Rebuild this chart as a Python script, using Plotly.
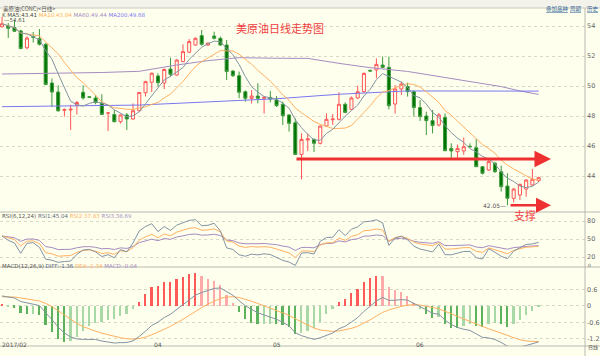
import numpy as np
import pandas as pd
import plotly.graph_objects as go
from plotly.subplots import make_subplots

# ---------------- data ----------------
open_ = [53.95, 54.00, 53.90, 53.67, 52.55, 53.30, 53.15, 52.78, 50.20, 49.60,
         48.38, 48.40, 48.72, 49.58, 49.28, 49.20, 48.85, 48.20, 48.10, 47.62,
         48.07, 47.80, 48.35, 49.55, 50.25, 50.67, 50.20, 51.13, 50.73, 51.62,
         52.25, 52.73, 53.36, 52.73, 53.33, 53.18, 52.73, 51.00, 50.69, 49.62,
         49.18, 49.33, 49.18, 49.24, 49.07, 48.78, 48.07, 47.55, 45.44, 46.40,
         46.44, 46.18, 47.33, 47.75, 47.78, 48.78, 48.44, 49.20, 49.62, 51.04,
         51.07, 51.40, 51.24, 48.80, 49.80, 49.96, 49.62, 48.56, 48.00, 47.69,
         47.40, 47.90, 45.84, 45.62, 45.67, 45.98, 45.88, 44.62, 44.40, 44.85,
         44.29, 43.33, 42.51, 42.73, 43.13, 43.40, 43.69]
high = [54.61, 54.20, 54.40, 53.75, 53.30, 53.60, 53.80, 52.85, 50.50, 50.05,
        48.50, 48.75, 49.00, 50.05, 49.30, 49.40, 49.45, 48.24, 48.40, 48.10,
        48.20, 48.84, 49.60, 50.35, 50.90, 50.84, 51.18, 51.89, 51.80, 52.78,
        53.13, 53.25, 53.73, 52.90, 53.62, 53.29, 53.07, 51.05, 50.96, 49.70,
        49.73, 50.18, 49.30, 49.67, 49.33, 48.96, 48.10, 47.84, 46.84, 46.84,
        46.50, 47.35, 48.18, 48.13, 49.58, 48.91, 49.30, 50.02, 50.90, 51.10,
        51.84, 51.96, 51.96, 50.07, 50.29, 50.22, 49.70, 49.07, 48.29, 48.40,
        48.20, 48.18, 46.18, 46.10, 46.56, 46.18, 46.47, 44.65, 45.07, 44.95,
        44.69, 44.18, 43.20, 43.50, 43.80, 44.47, 43.95]
low = [53.90, 53.20, 53.60, 52.45, 52.45, 52.90, 52.70, 50.05, 48.60, 48.28,
       47.96, 47.07, 48.10, 49.10, 49.20, 48.78, 48.07, 47.00, 47.58, 47.50,
       47.07, 47.75, 48.30, 49.30, 49.60, 49.96, 49.80, 50.62, 50.69, 51.60,
       52.20, 52.70, 52.69, 52.68, 53.10, 52.70, 50.40, 50.60, 49.18, 48.96,
       48.84, 48.84, 48.16, 48.90, 48.60, 47.40, 46.96, 45.40, 43.78, 45.67,
       45.60, 46.10, 47.30, 47.40, 47.70, 48.20, 48.40, 49.15, 49.55, 50.95,
       50.51, 51.20, 48.44, 48.16, 49.40, 49.29, 47.96, 47.67, 46.73, 46.84,
       47.30, 45.65, 45.18, 45.20, 45.40, 45.90, 44.60, 44.10, 44.35, 44.20,
       42.96, 42.05, 42.24, 42.40, 42.62, 43.35, 43.60]
close = [54.15, 53.85, 53.65, 52.50, 53.20, 53.25, 52.78, 50.10, 49.60, 48.35,
         48.42, 48.45, 48.90, 49.20, 49.25, 48.90, 48.10, 48.20, 47.62, 48.07,
         47.80, 48.35, 49.57, 50.29, 50.85, 50.22, 51.10, 50.78, 51.73, 52.29,
         52.96, 53.18, 52.78, 52.86, 53.18, 52.73, 50.96, 50.69, 49.58, 49.18,
         49.33, 49.18, 49.24, 49.13, 48.69, 48.02, 47.51, 45.44, 46.44, 46.47,
         46.18, 47.33, 47.78, 47.80, 48.78, 48.24, 49.20, 49.62, 50.84, 51.00,
         51.44, 51.24, 48.69, 49.80, 50.13, 49.62, 48.56, 47.96, 47.69, 47.36,
         48.07, 45.69, 45.67, 45.84, 45.95, 45.95, 44.62, 44.18, 44.96, 44.29,
         43.29, 42.51, 43.13, 43.44, 43.73, 43.78, 43.89]

ma60_idx = [0, 9, 16, 22, 28, 33, 38, 44, 49, 54, 59, 65, 70, 75, 80, 83, 86]
ma60_val = [50.80, 50.85, 50.90, 50.98, 51.40, 51.69, 51.89, 51.85, 51.84, 51.51,
            51.22, 50.97, 50.62, 50.29, 49.96, 49.67, 49.44]
ma200_idx = [0, 22, 44, 54, 65, 75, 86]
ma200_val = [48.62, 48.73, 49.15, 49.45, 49.67, 49.68, 49.66]

month_idx = [0, 25, 44, 67]
month_lbl = ["2017/02", "04", "05", "06"]

price_ticks = [54, 52, 50, 48, 46, 44]
rsi_ticks = [80, 50, 20]
macd_ticks = [0.6, 0, -0.6, -1.2]

support_price = 45.13
low_price = 42.05
high_price = 54.61

# ---------------- indicators ----------------
n = len(close)
x = list(range(n))
c = pd.Series(close)
ma5 = c.rolling(5, min_periods=1).mean()
ma10 = c.rolling(10, min_periods=1).mean()


def rsi(vals, period, g0, l0):
    g, l = g0, l0
    out = []
    prev = None
    for v in vals:
        if prev is not None:
            d = v - prev
            g = (max(d, 0) + (period - 1) * g) / period
            l = (abs(d) + (period - 1) * l) / period
        out.append(100 * g / l if l else 50)
        prev = v
    return out


rsi6 = rsi(close, 6, 0.22, 0.40)
rsi12 = rsi(close, 12, 0.22, 0.40)
rsi24 = rsi(close, 24, 0.22, 0.40)

e12, e26, dea = 53.85, 53.48, 0.33
diff_l, dea_l, hist = [], [], []
for v in close:
    e12 = (2 * v + 11 * e12) / 13
    e26 = (2 * v + 25 * e26) / 27
    d = e12 - e26
    dea = (2 * d + 8 * dea) / 10
    diff_l.append(d)
    dea_l.append(dea)
    hist.append(2 * (d - dea))

hist_col = []
for i, h in enumerate(hist):
    grow = i == 0 or abs(h) >= abs(hist[i - 1])
    if h >= 0:
        hist_col.append("#FF5A5A" if grow else "#FFAAAA")
    else:
        hist_col.append("#5DB35D" if grow else "#A8D8A8")

# ---------------- figure ----------------
BG = "#FFFFEE"
GRID = "#D9D9C8"
C_MA5 = "#8393A3"
C_MA10 = "#FFB060"
C_MA60 = "#A58CC0"
C_MA200 = "#7878F0"

fig = make_subplots(rows=3, cols=1, shared_xaxes=True, vertical_spacing=0,
                    row_heights=[204, 55, 79])

fig.add_trace(go.Candlestick(
    x=x, open=open_, high=high, low=low, close=close,
    increasing=dict(line=dict(color="#FF5555", width=1), fillcolor=BG),
    decreasing=dict(line=dict(color="#3C9A3C", width=1), fillcolor="#007400"),
    whiskerwidth=0, showlegend=False, hoverinfo="skip"), row=1, col=1)

fig.add_trace(go.Scatter(x=ma60_idx, y=ma60_val, mode="lines",
                         line=dict(color=C_MA60, width=1), showlegend=False), row=1, col=1)
fig.add_trace(go.Scatter(x=ma200_idx, y=ma200_val, mode="lines",
                         line=dict(color=C_MA200, width=1), showlegend=False), row=1, col=1)
fig.add_trace(go.Scatter(x=x, y=ma10, mode="lines",
                         line=dict(color=C_MA10, width=1), showlegend=False), row=1, col=1)
fig.add_trace(go.Scatter(x=x, y=ma5, mode="lines",
                         line=dict(color=C_MA5, width=1), showlegend=False), row=1, col=1)

fig.add_trace(go.Scatter(x=x, y=rsi24, mode="lines",
                         line=dict(color=C_MA60, width=1), showlegend=False), row=2, col=1)
fig.add_trace(go.Scatter(x=x, y=rsi12, mode="lines",
                         line=dict(color=C_MA10, width=1), showlegend=False), row=2, col=1)
fig.add_trace(go.Scatter(x=x, y=rsi6, mode="lines",
                         line=dict(color=C_MA5, width=1), showlegend=False), row=2, col=1)

fig.add_trace(go.Bar(x=x, y=hist, marker=dict(color=hist_col, line=dict(width=0)),
                     width=0.28, showlegend=False), row=3, col=1)
fig.add_trace(go.Scatter(x=x, y=dea_l, mode="lines",
                         line=dict(color=C_MA10, width=1), showlegend=False), row=3, col=1)
fig.add_trace(go.Scatter(x=x, y=diff_l, mode="lines",
                         line=dict(color=C_MA5, width=1), showlegend=False), row=3, col=1)

XR = [-0.32, 93.43]
tickfont = dict(size=6.5, color="#666666", family="DejaVu Sans")
for r in (1, 2, 3):
    fig.update_xaxes(range=XR, showgrid=False, zeroline=False, showticklabels=False,
                     rangeslider_visible=False, row=r, col=1)
fig.update_yaxes(range=[41.6, 55.2], tickvals=price_ticks, row=1, col=1)
fig.update_yaxes(range=[3.33, 95], tickvals=rsi_ticks, row=2, col=1)
fig.update_yaxes(range=[-1.47, 1.43], tickvals=macd_ticks,
                 ticktext=["0.6", "0", "-0.6", "-1.2"], row=3, col=1)
fig.update_yaxes(side="right", showgrid=True, gridcolor=GRID, griddash="dot",
                 gridwidth=1, zeroline=False, tickfont=tickfont, ticks="",
                 ticklabelstandoff=1, automargin=False)
fig.update_xaxes(automargin=False)

fig.update_layout(
    width=600, height=356,
    margin=dict(l=0, r=15, t=8, b=10, autoexpand=False),
    paper_bgcolor=BG, plot_bgcolor=BG,
    bargap=0, showlegend=False,
    font=dict(family="Noto Sans CJK SC, DejaVu Sans", size=7),
)


def px(xp):
    return xp / 585.0


def py(yp):
    return 1 - (yp - 8) / 338.0


def xi(xp):
    return (xp - 2) / 6.24


shapes = [
    dict(type="rect", xref="paper", yref="paper", x0=px(0), x1=px(600), y0=py(8), y1=py(0),
         fillcolor="#F3F3EC", line=dict(width=0), layer="below"),
    dict(type="line", xref="paper", yref="paper", x0=0, x1=px(600), y0=py(8), y1=py(8),
         line=dict(color="#C8C8C0", width=1)),
    dict(type="line", xref="paper", yref="paper", x0=0, x1=px(600), y0=py(212), y1=py(212),
         line=dict(color="#B8B8B0", width=1)),
    dict(type="line", xref="paper", yref="paper", x0=0, x1=px(600), y0=py(267), y1=py(267),
         line=dict(color="#B8B8B0", width=1)),
    dict(type="line", xref="paper", yref="paper", x0=0, x1=px(600), y0=py(346), y1=py(346),
         line=dict(color="#B8B8B0", width=1)),
    dict(type="line", xref="paper", yref="paper", x0=1, x1=1, y0=py(8), y1=py(356),
         line=dict(color="#B8B8B0", width=1)),
]
fig.update_layout(shapes=shapes)

ann = []
# arrows
ann.append(dict(x=xi(551), y=support_price, ax=xi(295), ay=support_price,
                xref="x", yref="y", axref="x", ayref="y", text="", showarrow=True,
                arrowhead=2, arrowsize=1.1, arrowwidth=3, arrowcolor="#EE3030"))
ann.append(dict(x=xi(551), y=low_price, ax=xi(509), ay=low_price,
                xref="x", yref="y", axref="x", ayref="y", text="", showarrow=True,
                arrowhead=2, arrowsize=1.2, arrowwidth=2.5, arrowcolor="#EE3030"))
# title & support text
ann.append(dict(x=px(280), y=py(18), xref="paper", yref="paper", text="美原油日线走势图",
                showarrow=False, font=dict(size=11, color="#F04040",
                                           family="Noto Sans CJK SC")))
ann.append(dict(x=px(538), y=py(215), xref="paper", yref="paper", text="支撑",
                showarrow=False, font=dict(size=11, color="#F04040",
                                           family="Noto Sans CJK SC")))
# high / low labels
ann.append(dict(x=xi(2), y=high_price, xref="x", yref="y", text="—54.61", xanchor="left",
                yshift=-3.5, showarrow=False,
                font=dict(size=5.5, color="#555555", family="DejaVu Sans")))
ann.append(dict(x=xi(508), y=low_price, xref="x", yref="y", text="42.05—", xanchor="right",
                showarrow=False, font=dict(size=6, color="#555555", family="DejaVu Sans")))


def seg_text(items, y, x0, fam="DejaVu Sans"):
    html = "".join(f"<span style='color:{col}'>{t}</span>&nbsp;" for t, col in items)
    return dict(x=px(x0), y=py(y), xref="paper", yref="paper", text=html, xanchor="left",
                showarrow=False, font=dict(size=5.5, family=fam))


ann.append(seg_text([("美原油(CONC)&lt;日线&gt;", "#555555")], 3, 1,
                    "Noto Sans CJK SC"))
ann.append(seg_text([("K", "#555555"), ("MA5:43.41", "#444444"), ("MA10:43.84", C_MA10),
                     ("MA60:49.44", C_MA60), ("MA200:49.68", C_MA200)], 10, 0))
ann.append(seg_text([("RSI(6,12,24)", "#555555"), ("RSI1:45.04", "#5A6A80"),
                     ("RSI2:37.83", C_MA10), ("RSI3:38.69", C_MA60)], 215.5, 0))
ann.append(seg_text([("MACD(12,26,9)", "#555555"), ("DIFF:-1.36", "#5A6A80"),
                     ("DEA:-1.34", C_MA10), ("MACD:-0.04", C_MA60)], 270.5, 0))
for t, x0 in (("叠加品种", 544), ("周期", 568), ("历史", 585)):
    ann.append(dict(x=px(x0), y=py(3), xref="paper", yref="paper",
                    text=f"<u>{t}</u>", xanchor="left", showarrow=False,
                    font=dict(size=5.5, color="#336699", family="Noto Sans CJK SC")))
# extra small axis label seen under the RSI scale
ann.append(dict(x=px(587), y=py(265.5), xref="paper", yref="paper", text="0",
                xanchor="left", yanchor="middle", showarrow=False, borderpad=0,
                font=dict(size=4.5, color="#666666", family="DejaVu Sans")))
# x month labels
for i, lbl in zip(month_idx, month_lbl):
    ann.append(dict(x=i if i else -0.3, y=py(350.5), xref="x", yref="paper", text=lbl,
                    xanchor="left" if i == 0 else "center", showarrow=False,
                    font=dict(size=6, color="#555555", family="DejaVu Sans")))
ann.append(dict(x=px(587), y=py(351.5), xref="paper", yref="paper", text="日线",
                xanchor="left", showarrow=False, borderpad=0,
                font=dict(size=5, color="#555555", family="Noto Sans CJK SC")))

fig.update_layout(annotations=ann)
fig.write_html("out.html", config={"displayModeBar": False},
               post_script="document.body.style.margin='0';"
                           "document.body.style.overflow='hidden';")
